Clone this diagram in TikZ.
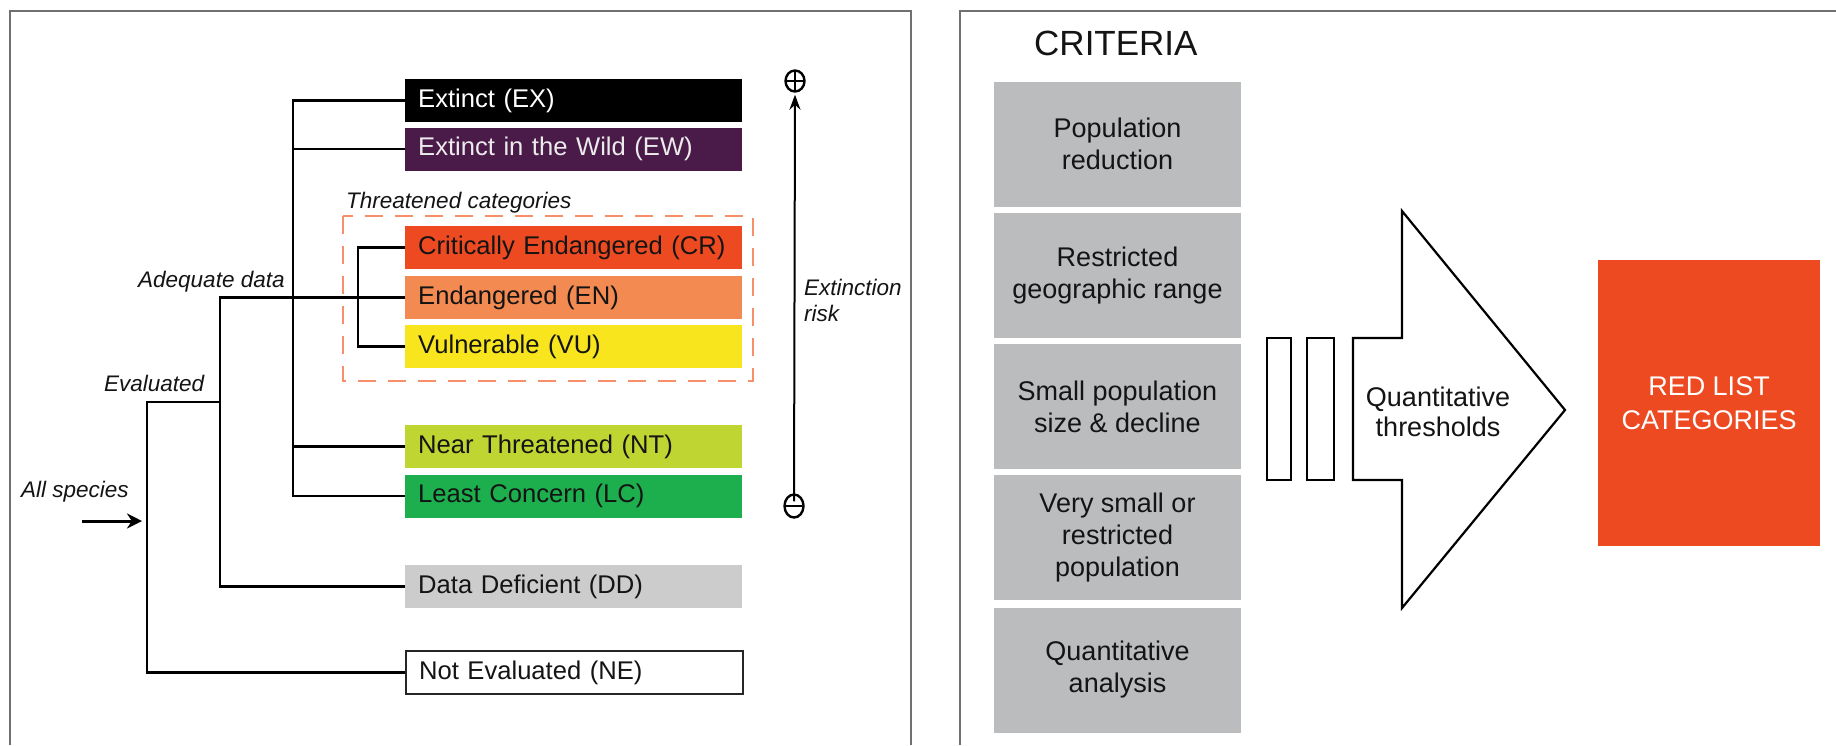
\documentclass[tikz,border=0pt]{standalone}
\usepackage{fontspec}
\setmainfont{Liberation Sans}
\usetikzlibrary{arrows.meta,shapes.geometric}
\definecolor{frameg}{HTML}{707070}
\definecolor{cEX}{HTML}{000000}
\definecolor{cEW}{HTML}{4A1A48}
\definecolor{cCR}{HTML}{EE4A22}
\definecolor{cEN}{HTML}{F28A52}
\definecolor{cVU}{HTML}{F8E51E}
\definecolor{cNT}{HTML}{BED532}
\definecolor{cLC}{HTML}{1DAE4E}
\definecolor{cDD}{HTML}{CCCCCC}
\definecolor{cGR}{HTML}{BBBCBE}
\definecolor{cDash}{HTML}{F7906A}
\definecolor{txt}{HTML}{141414}
\tikzset{
  catbox/.style={anchor=west, minimum height=43pt, inner xsep=13pt, inner ysep=0pt,
    text width=311pt, align=left, font=\fontsize{25.6}{30}\selectfont, text=txt},
  conn/.style={line width=2.4pt, black},
  lab/.style={font=\itshape\fontsize{22.5}{26}\selectfont, text=txt, inner sep=0pt, align=left},
  crit/.style={fill=cGR, minimum width=247pt, minimum height=125pt, inner sep=0pt,
    align=center, font=\fontsize{27}{32}\selectfont, text=txt},
  panel/.style={line width=2pt, frameg},
  thin/.style={line width=2.2pt, black},
  signc/.style={ellipse, draw=black, line width=2.4pt, minimum width=19pt, minimum height=21pt, inner sep=0pt}
}
\begin{document}
\begin{tikzpicture}[x=1pt,y=-1pt]
\useasboundingbox[fill=white] (0,0) rectangle (1836,745);
% panels
\draw[panel] (10,745) -- (10,11) -- (911,11) -- (911,745);
\draw[panel] (960,745) -- (960,11) -- (1840,11);

% threatened frame
\draw[cDash, line width=2.4pt, dash pattern=on 18pt off 12pt] (343,216) rectangle (753,381);
\node[lab, anchor=west] (thr) at (346,203) {Threatened categories};

% category boxes
\node[catbox, fill=cEX, text=white] (ex) at (405,100.5) {Extinct (EX)};
\node[catbox, fill=cEW, text=white!92!black] (ew) at (405,149) {Extinct in the Wild (EW)};
\node[catbox, fill=cCR] (cr) at (405,247.5) {Critically Endangered (CR)};
\node[catbox, fill=cEN] (en) at (405,297.5) {Endangered (EN)};
\node[catbox, fill=cVU] (vu) at (405,346.5) {Vulnerable (VU)};
\node[catbox, fill=cNT] (nt) at (405,446.5) {Near Threatened (NT)};
\node[catbox, fill=cLC] (lc) at (405,496) {Least Concern (LC)};
\node[catbox, fill=cDD] (dd) at (405,586.5) {Data Deficient (DD)};
\node[catbox, fill=white, draw=black!85, line width=2.2pt] (ne) at (405,672.5) {Not Evaluated (NE)};

% junction coordinates
\coordinate (trunk) at (293,0);
\coordinate (br) at (358,0);
\coordinate (adq) at (220,0);
\coordinate (evj) at (147,402);

% connectors
\draw[conn] (ex.west) -- (ex.west -| trunk) -- (lc.west -| trunk) -- (lc.west);
\draw[conn] (ew.west) -- (ew.west -| trunk);
\draw[conn] (nt.west) -- (nt.west -| trunk);
\draw[conn] (cr.west) -- (cr.west -| br) -- (vu.west -| br) -- (vu.west);
\draw[conn] (en.west) -- (en.west -| adq) -- (dd.west -| adq) -- (dd.west);
\draw[conn] (evj -| adq) -- (evj) -- (ne.west -| evj) -- (ne.west);

% labels
\node[lab, anchor=west] (adl) at (138,282) {Adequate data};
\node[lab, anchor=west] (evl) at (104,383) {Evaluated};
\node[lab, anchor=west] (asl) at (21,492) {All species};
\coordinate (asA) at (82,521);
\coordinate (asB) at (142,521);
\draw[line width=3pt, -{Stealth[length=15pt,width=15pt]}] (asA) -- (asB);

% extinction risk
\node[signc] (plus) at (795,81) {};
\draw[line width=2.4pt] ([xshift=3pt]plus.west) -- ([xshift=-3pt]plus.east);
\draw[line width=2.4pt] ([yshift=-3pt]plus.north) -- ([yshift=3pt]plus.south);
\node[signc, minimum height=23pt] (minus) at (794,506) {};
\draw[line width=2.4pt] ([xshift=3pt]minus.west) -- ([xshift=-3pt]minus.east);
\draw[line width=2pt, -{Stealth[length=15pt,width=11pt]}] ([yshift=-8pt]minus.north) -- ([yshift=-2pt]plus.south);
\node[lab, anchor=west] (risk) at (804,300) {Extinction\\risk};

% right panel
\node[anchor=west, inner sep=0pt, font=\fontsize{35}{40}\selectfont, text=txt] (crit) at (1034,43) {CRITERIA};
\node[crit] (c1) at (1117.5,144) {Population\\reduction};
\node[crit] (c2) at (1117.5,275.5) {Restricted\\geographic range};
\node[crit] (c3) at (1117.5,406.5) {Small population\\size \& decline};
\node[crit] (c4) at (1117.5,537.5) {Very small or\\restricted\\population};
\node[crit] (c5) at (1117.5,670) {Quantitative\\analysis};

% bars and big arrow
\draw[thin, fill=white] (1267,338) rectangle (1291,480);
\draw[thin, fill=white] (1307,338) rectangle (1334,480);
\draw[thin, fill=white, line join=miter] (1353,338) -- (1402,338) -- (1402,211) -- (1565,410) -- (1402,608) -- (1402,480) -- (1353,480) -- cycle;
\node[align=center, inner sep=0pt, font=\fontsize{27}{30}\selectfont, text=txt] (qt) at (1438,412) {Quantitative\\thresholds};

% red list box
\node[fill=cCR, minimum width=222pt, minimum height=286pt, inner sep=0pt, align=center,
  font=\fontsize{27}{34}\selectfont, text=white] (rl) at (1709,403) {RED LIST\\CATEGORIES};
\end{tikzpicture}
\end{document}
